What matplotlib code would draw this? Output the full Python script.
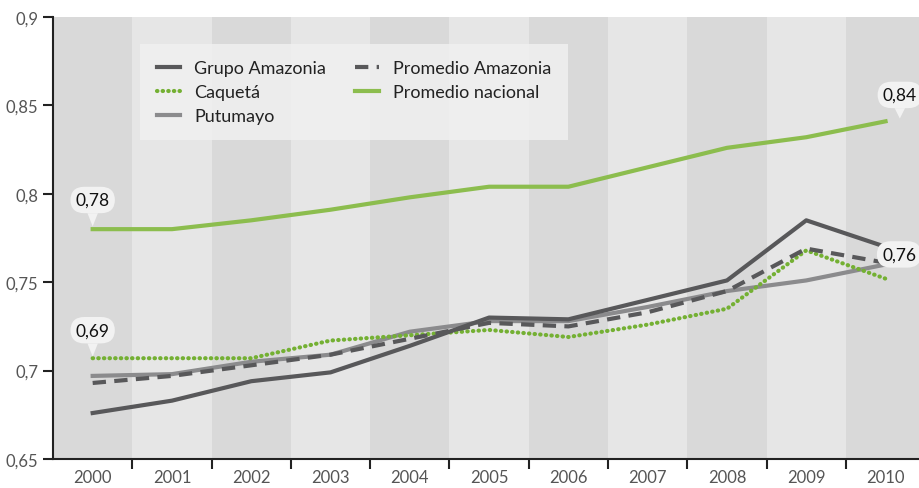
import numpy as np
import matplotlib.pyplot as plt

# Indice por departamento, 2000-2010
years = ['2000', '2001', '2002', '2003', '2004', '2005',
         '2006', '2007', '2008', '2009', '2010']
grupo_amazonia = [0.676, 0.683, 0.694, 0.699, 0.714, 0.730, 0.729, 0.740, 0.751, 0.785, 0.770]
caqueta = [0.707, 0.707, 0.707, 0.717, 0.720, 0.723, 0.719, 0.726, 0.735, 0.768, 0.752]
putumayo = [0.697, 0.698, 0.705, 0.709, 0.722, 0.728, 0.728, 0.736, 0.745, 0.751, 0.760]
promedio_amazonia = [0.693, 0.697, 0.703, 0.709, 0.718, 0.727, 0.725, 0.733, 0.745, 0.769, 0.761]
promedio_nacional = [0.780, 0.780, 0.785, 0.791, 0.798, 0.804, 0.804, 0.815, 0.826, 0.832, 0.841]
yticks = [0.65, 0.7, 0.75, 0.8, 0.85, 0.9]

plt.rcParams['font.family'] = ['Lato', 'DejaVu Sans']

fig = plt.figure(figsize=(9.19, 4.89), dpi=100)
ax = fig.add_axes([0.0577, 0.0593, 0.9456, 0.9039])

x = np.arange(len(years))

# alternating column bands
for i in x:
    ax.axvspan(i - 0.5, i + 0.5, color='#d9d9d9' if i % 2 == 0 else '#e6e6e6',
               lw=0, zorder=0)

ax.plot(x, promedio_nacional, color='#8cbd4e', lw=3, label='Promedio nacional', zorder=3)
ax.plot(x, caqueta, color='#74b033', lw=3, linestyle=(0, (0.1, 1.25)),
        dash_capstyle='round', label='Caquetá', zorder=4)
ax.plot(x, putumayo, color='#8b8b8d', lw=3, label='Putumayo', zorder=3)
ax.plot(x, promedio_amazonia, color='#58585a', lw=3, linestyle=(0, (3.2, 2)),
        label='Promedio Amazonia', zorder=4)
ax.plot(x, grupo_amazonia, color='#58585a', lw=3, label='Grupo Amazonia', zorder=5)

ax.set_xlim(-0.5, 10.46)
ax.set_ylim(0.65, 0.9)

ax.set_xticks(x)
ax.set_xticklabels(years)
ax.set_xticks(np.arange(0.5, 10.5, 1), minor=True)
ax.tick_params(axis='x', which='major', length=0, pad=7, labelsize=12, labelcolor='#555555')
ax.tick_params(axis='x', which='minor', length=7, width=1.5, direction='out', color='#222222')
ax.set_yticks(yticks)
ax.set_yticklabels([f'{v:g}'.replace('.', ',') for v in yticks])
ax.tick_params(axis='y', length=7, width=1.5, labelsize=12, labelcolor='#555555', color='#222222')

for side in ['top', 'right']:
    ax.spines[side].set_visible(False)
for side in ['left', 'bottom']:
    ax.spines[side].set_linewidth(1.5)
    ax.spines[side].set_color('#222222')

# value callouts; the pointer drops straight below the bubble
def callout(xi, series, shift, dy, shrink=2):
    v = series[xi]
    ax.annotate(f'{v:.2f}'.replace('.', ','), xy=(xi + shift, v), xycoords='data',
                xytext=(0, dy), textcoords='offset points', annotation_clip=False,
                ha='center', va='center', fontsize=12.5, color='#111111', zorder=6,
                bbox=dict(boxstyle='round,pad=0.3,rounding_size=0.8',
                          fc='#f2f2f2', ec='none'),
                arrowprops=dict(arrowstyle='wedge,tail_width=0.6', fc='#f2f2f2',
                                ec='none', shrinkA=0, shrinkB=shrink))

callout(0, promedio_nacional, 0, 21)
callout(0, promedio_amazonia, 0, 38, shrink=19)
callout(10, promedio_nacional, 0.18, 19)
callout(10, promedio_amazonia, 0.17, 6, shrink=0)

handles, labels = ax.get_legend_handles_labels()
order = ['Grupo Amazonia', 'Caquetá', 'Putumayo', 'Promedio Amazonia', 'Promedio nacional']
h = [handles[labels.index(n)] for n in order]
leg = ax.legend(h, order, ncol=2, loc='upper left', bbox_to_anchor=(0.09, 0.96),
                frameon=True, fancybox=False, fontsize=13, handlelength=1.3,
                columnspacing=1.6, labelspacing=0.45, borderpad=0.9,
                handletextpad=0.8)
leg.get_frame().set_facecolor('#efefef')
leg.get_frame().set_edgecolor('none')
leg.get_frame().set_alpha(0.9)
for t in leg.get_texts():
    t.set_color('#222222')

plt.savefig('out.png', dpi=100)
